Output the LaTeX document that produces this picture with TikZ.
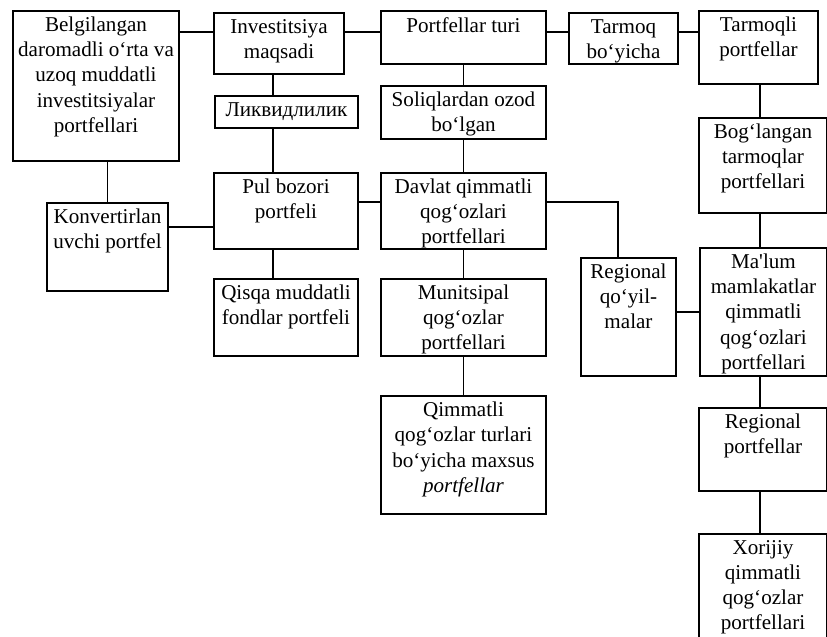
\documentclass[tikz,border=0pt]{standalone}
\usepackage{fontspec}
\setmainfont{Liberation Serif}

\begin{document}
\begin{tikzpicture}[
    box/.style={draw, line width=1.4pt, anchor=north west, inner sep=0pt},
    lbl/.style={draw=none, anchor=north, align=center, inner xsep=2pt, inner ysep=5pt, font=\fontsize{15}{17.8}\selectfont},
    link/.style={line width=1.4pt}]

  \useasboundingbox (0,0) rectangle (20.675,-15.9);
  \clip (0,0) rectangle (20.675,-15.9);

  % Birinchi ustun
  \node[box, minimum width=4.15cm, minimum height=3.75cm,
        label={[lbl]north:{Belgilangan\\daromadli o‘rta va\\uzoq muddatli\\investitsiyalar\\portfellari}}] (belg) at (0.3,-0.25) {};
  \node[box, minimum width=3.025cm, minimum height=2.2cm,
        label={[lbl]north:{Konvertirlan\\uvchi portfel}}] (konv) at (1.15,-5.05) {};

  % Ikkinchi ustun
  \node[box, minimum width=3.25cm, minimum height=1.525cm,
        label={[lbl]north:{Investitsiya\\maqsadi}}] (invest) at (5.325,-0.3) {};
  \node[box, minimum width=3.575cm, minimum height=0.8cm,
        label={[lbl]north:{Ликвидлилик}}] (likv) at (5.35,-2.375) {};
  \node[box, minimum width=3.6cm, minimum height=1.9cm,
        label={[lbl]north:{Pul bozori\\portfeli}}] (pul) at (5.325,-4.3) {};
  \node[box, minimum width=3.6cm, minimum height=1.925cm,
        label={[lbl]north:{Qisqa muddatli\\fondlar portfeli}}] (qisqa) at (5.325,-6.95) {};

  % Uchinchi ustun
  \node[box, minimum width=4.125cm, minimum height=1.325cm,
        label={[lbl]north:{Portfellar turi}}] (turi) at (9.5,-0.25) {};
  \node[box, minimum width=4.125cm, minimum height=1.325cm,
        label={[lbl]north:{Soliqlardan ozod\\bo‘lgan}}] (soliq) at (9.5,-2.125) {};
  \node[box, minimum width=4.125cm, minimum height=1.9cm,
        label={[lbl]north:{Davlat qimmatli\\qog‘ozlari\\portfellari}}] (davlat) at (9.5,-4.3) {};
  \node[box, minimum width=4.125cm, minimum height=1.925cm,
        label={[lbl]north:{Munitsipal\\qog‘ozlar\\portfellari}}] (munits) at (9.5,-6.95) {};
  \node[box, minimum width=4.125cm, minimum height=2.95cm,
        label={[lbl]north:{Qimmatli\\qog‘ozlar turlari\\bo‘yicha maxsus\\\textit{portfellar}}}] (qimm) at (9.5,-9.875) {};

  % To'rtinchi ustun
  \node[box, minimum width=2.725cm, minimum height=1.275cm,
        label={[lbl]north:{Tarmoq\\bo‘yicha}}] (tarmoq) at (14.2,-0.3) {};
  \node[box, minimum width=2.375cm, minimum height=2.95cm,
        label={[lbl]north:{Regional\\qo‘yil-\\malar}}] (regq) at (14.5,-6.425) {};

  % Beshinchi ustun
  \node[box, minimum width=2.975cm, minimum height=1.825cm,
        label={[lbl]north:{Tarmoqli\\portfellar}}] (tarmoqli) at (17.45,-0.25) {};
  \node[box, minimum width=3.2cm, minimum height=2.375cm,
        label={[lbl]north:{Bog‘langan\\tarmoqlar\\portfellari}}] (bogl) at (17.45,-2.925) {};
  \node[box, minimum width=3.175cm, minimum height=3.2cm,
        label={[lbl]north:{Ma\textquotesingle lum\\mamlakatlar\\qimmatli\\qog‘ozlari\\portfellari}}] (malum) at (17.475,-6.175) {};
  \node[box, minimum width=3.2cm, minimum height=2.075cm,
        label={[lbl]north:{Regional\\portfellar}}] (regp) at (17.45,-10.175) {};
  \node[box, minimum width=3.2cm, minimum height=3.2cm,
        label={[lbl]north:{Xorijiy\\qimmatli\\qog‘ozlar\\portfellari}}] (xor) at (17.45,-13.325) {};

  % Ulanish chiziqlari uchun yordamchi nuqtalar
  \coordinate (rowA) at (0,-0.8);
  \coordinate (rowB) at (0,-5.05);
  \coordinate (rowC) at (0,-5.675);
  \coordinate (rowD) at (0,-7.8);
  \coordinate (colA) at (6.825,0);
  \coordinate (colB) at (15.45,0);
  \coordinate (colC) at (19.0,0);

  % Yuqori qator
  \draw[link] (belg.east |- rowA) -- (invest.west |- rowA);
  \draw[link] (invest.east |- rowA) -- (turi.west |- rowA);
  \draw[link] (turi.east |- rowA) -- (tarmoq.west |- rowA);
  \draw[link] (tarmoq.east |- rowA) -- (tarmoqli.west |- rowA);

  % Chap tomon
  \draw[link] (belg.south -| konv.north) -- (konv.north);
  \draw[link] (konv.east |- rowC) -- (pul.west |- rowC);
  \draw[link] (invest.south -| colA) -- (likv.north -| colA);
  \draw[link] (likv.south -| colA) -- (pul.north -| colA);
  \draw[link] (pul.south -| colA) -- (qisqa.north -| colA);
  \draw[link] (pul.east |- rowB) -- (davlat.west |- rowB);

  % O'rta ustun
  \draw[link] (turi.south) -- (soliq.north);
  \draw[link] (soliq.south) -- (davlat.north);
  \draw[link] (davlat.south) -- (munits.north);
  \draw[link] (munits.south) -- (qimm.north);
  \draw[link] (davlat.east |- rowB) -| (regq.north -| colB);
  \draw[link] (regq.east |- rowD) -- (malum.west |- rowD);

  % O'ng ustun
  \draw[link] (tarmoqli.south -| colC) -- (bogl.north -| colC);
  \draw[link] (bogl.south -| colC) -- (malum.north -| colC);
  \draw[link] (malum.south -| colC) -- (regp.north -| colC);
  \draw[link] (regp.south -| colC) -- (xor.north -| colC);

\end{tikzpicture}
\end{document}
